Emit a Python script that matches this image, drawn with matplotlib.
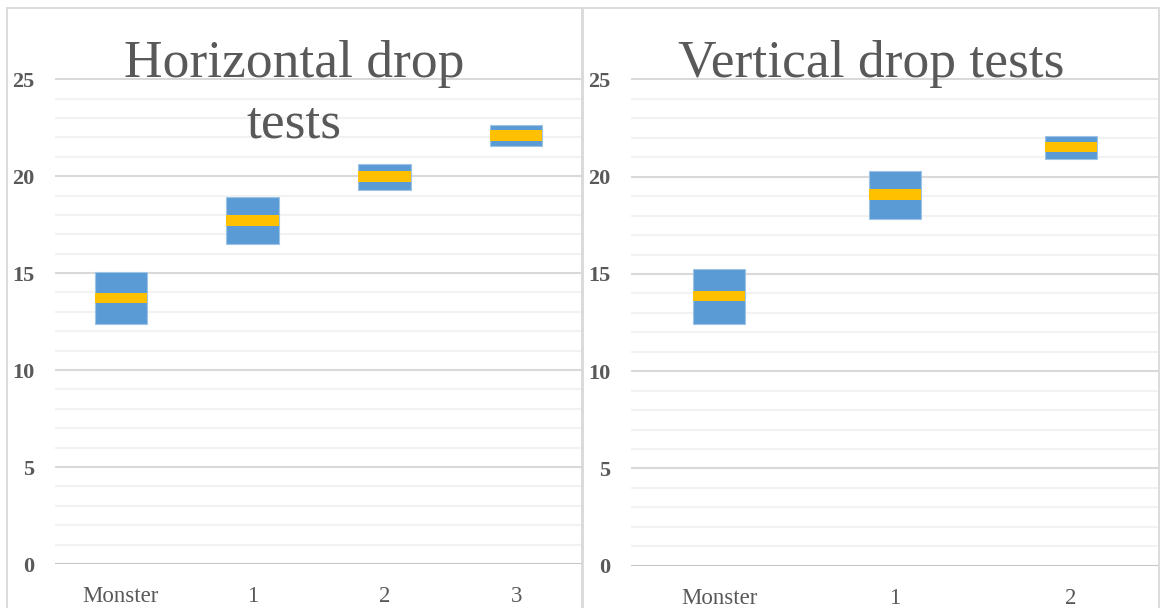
import matplotlib.pyplot as plt
from matplotlib.patches import Rectangle
from matplotlib.ticker import MultipleLocator

# values (low, mean, high)
h_labels = ['Monster', '1', '2', '3']
h_low = [12.35, 16.5, 19.3, 21.55]
h_mean = [13.72, 17.72, 19.98, 22.1]
h_high = [15.05, 18.9, 20.6, 22.63]

v_labels = ['Monster', '1', '2']
v_low = [12.45, 17.85, 20.9]
v_mean = [13.87, 19.1, 21.52]
v_high = [15.26, 20.3, 22.08]

BLUE = '#5b9bd5'
YELLOW = '#ffc000'
GREY = '#595959'
SERIF = ['Liberation Serif', 'DejaVu Serif']


def draw_panel(ax, labels, low, mean, high, width):
    x = list(range(len(labels)))
    heights = [hi - lo for lo, hi in zip(low, high)]
    ax.bar(x, heights, bottom=low, width=width, color=BLUE,
           edgecolor='#9dc3e6', linewidth=0.8, zorder=3)
    band = 0.55
    ax.bar(x, [band] * len(x), bottom=[m - band / 2 for m in mean],
           width=width, color=YELLOW, linewidth=0, zorder=4)

    ax.set_xlim(-0.5, len(labels) - 0.5)
    ax.set_ylim(0, 25.06)
    ax.yaxis.set_major_locator(MultipleLocator(5))
    ax.yaxis.set_minor_locator(MultipleLocator(1))
    ax.grid(axis='y', which='major', color='#d9d9d9', linewidth=1.5, zorder=1)
    ax.grid(axis='y', which='minor', color='#f2f2f2', linewidth=1.5, zorder=0)
    ax.axhline(0, color='#bfbfbf', linewidth=1.8, zorder=2)
    for s in ax.spines.values():
        s.set_visible(False)
    ax.set_xticks(x)
    ax.set_xticklabels(labels, family=SERIF, fontsize=16.5, color=GREY)
    ax.tick_params(axis='x', length=0, pad=16)
    ax.tick_params(axis='y', which='both', length=0, pad=15)
    for t in ax.get_yticklabels():
        t.set_family(SERIF)
        t.set_fontsize(16)
        t.set_fontweight('bold')
        t.set_color(GREY)


fig = plt.figure(figsize=(11.61, 6.08), dpi=100)
W, H = 1161, 608

# chart borders
fig.patches.append(Rectangle((7 / W, -0.05), 575 / W, 1.05 - 8 / H,
                             transform=fig.transFigure, fill=False,
                             edgecolor='#d9d9d9', linewidth=1.3))
fig.patches.append(Rectangle((583 / W, -0.05), 576 / W, 1.05 - 8 / H,
                             transform=fig.transFigure, fill=False,
                             edgecolor='#d9d9d9', linewidth=1.3))

ax1 = fig.add_axes([55 / W, 44 / H, 527 / W, 486 / H])
draw_panel(ax1, h_labels, h_low, h_mean, h_high, 0.4)

ax2 = fig.add_axes([631 / W, 42.3 / H, 528 / W, 487.4 / H])
draw_panel(ax2, v_labels, v_low, v_mean, v_high, 0.3)

fig.text(294 / W, 1 - 77 / H, 'Horizontal drop', ha='center', va='baseline',
         family=SERIF, fontsize=38.5, color=GREY)
fig.text(294 / W, 1 - 137 / H, 'tests', ha='center', va='baseline',
         family=SERIF, fontsize=38.5, color=GREY)
fig.text(871 / W, 1 - 77 / H, 'Vertical drop tests', ha='center', va='baseline',
         family=SERIF, fontsize=38.5, color=GREY)

fig.savefig('out.png', dpi=100)
plt.close(fig)
